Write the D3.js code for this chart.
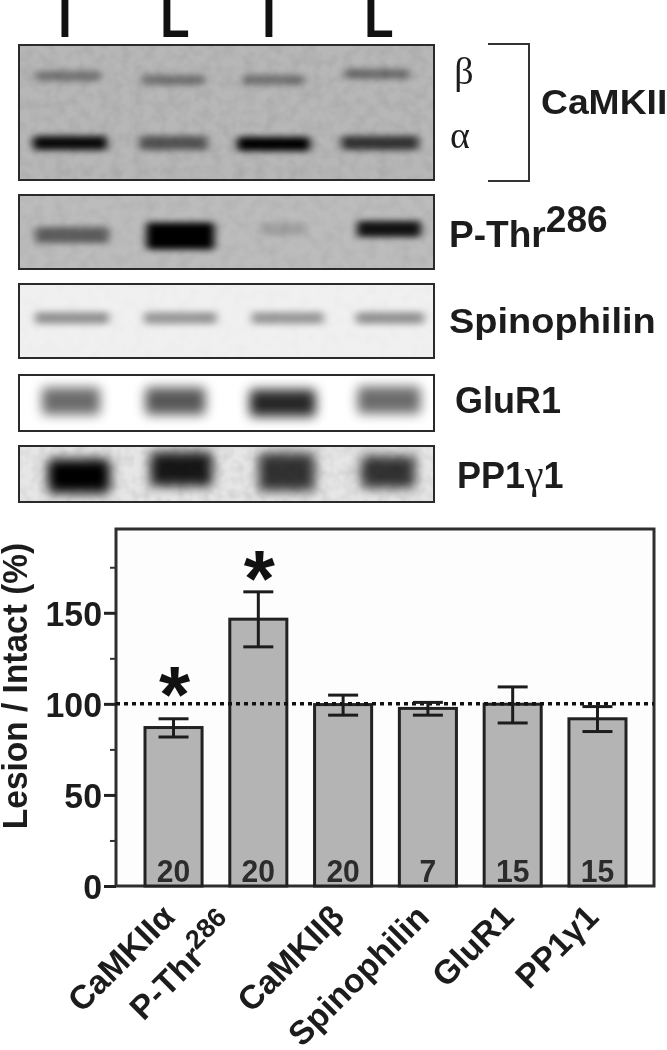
<!DOCTYPE html>
<html><head><meta charset="utf-8">
<script src="https://cdnjs.cloudflare.com/ajax/libs/d3/7.8.5/d3.min.js"></script>
<style>html,body{margin:0;padding:0;background:#fff;overflow:hidden}svg{display:block;filter:blur(.6px)}
text{font-family:"Liberation Sans",Arial,sans-serif;fill:#1c1c1c}</style></head><body>
<svg id="c" width="667" height="1050"></svg>
<script>
// ---- bar chart data ----
const categories = ["CaMKIIα","P-Thr286","CaMKIIβ","Spinophilin","GluR1","PP1γ1"];
const means      = [87, 146.5, 99.6, 97.5, 99.8, 91.8];
const errUpper   = [91.8, 161.5, 104.8, 100.8, 109.3, 98.5];
const errLower   = [81.8, 131.3, 93.8, 93.8, 89.5, 84.8];
const sampleSizes= [20, 20, 20, 7, 15, 15];
const significant= [true, true, false, false, false, false];
const majorTicks = [0, 50, 100, 150];
const minorTicks = [25, 75, 125, 175];
const referenceLevel = [100];
// ---- blot data: lane labels and band density per lane ----
const lanes = ["I","L","I","L"];
const betaDensity  = [.38,.38,.38,.42];
const alphaDensity = [.95,.55,1,.72];
const pThrDensity  = [.5,1,.15,.9];
const spinDensity  = [.38,.36,.36,.38];
const gluDensity   = [.58,.66,.85,.58];
const ppDensity    = [1,.9,.78,.78];

const svg = d3.select("#c");
const defs = svg.append("defs");
function blur(id,sd){defs.append("filter").attr("id",id).attr("filterUnits","userSpaceOnUse")
  .attr("x",0).attr("y",0).attr("width",667).attr("height",1050)
  .append("feGaussianBlur").attr("stdDeviation",sd);}
blur("b2",[4,3.2]); blur("b5",[6,6]);
const noise = defs.append("filter").attr("id","grain").attr("filterUnits","userSpaceOnUse")
  .attr("x",0).attr("y",0).attr("width",667).attr("height",1050);
noise.append("feTurbulence").attr("type","fractalNoise").attr("baseFrequency",.09).attr("numOctaves",2).attr("seed",4);
noise.append("feColorMatrix").attr("values","0 0 0 0 0  0 0 0 0 0  0 0 0 0 0  0 0 0 .9 -.33");

// ---- blot panels ----
const laneX = d3.scalePoint().domain(d3.range(lanes.length)).range([70,380]);
const panels = [
 {y:45, h:135,bg:"#b7b7b7",grain:.14,bands:[
   {d:betaDensity, cy:[76,80,80,74],w:[66,64,62,66],h:10,dx:[-2,0,-3,-3],f:"b2"},
   {d:alphaDensity,cy:[143,143,144,143],w:[74,68,73,77],h:14,dx:[0,0,-3,0],f:"b2"}]},
 {y:195,h:74, bg:"#bcbcbc",grain:.1,bands:[
   {d:pThrDensity,cy:[235,236,229,229],w:[74,68,44,64],h:[16,27,13,16],dx:[2,7,6,9],f:"b2"}]},
 {y:284,h:74, bg:"#f0f0f0",grain:.03,bands:[
   {d:spinDensity,cy:[318,318,318,318],w:[74,73,72,68],h:12,dx:[2,7,11,10],f:"b2"}]},
 {y:375,h:56, bg:"#ffffff",grain:0,bands:[
   {d:gluDensity,cy:[401,401,403,400],w:[58,60,66,63],h:27,dx:[1,2,6,9],f:"b5"}]},
 {y:446,h:56, bg:"#e6e6e6",grain:.18,bands:[
   {d:ppDensity,cy:[476,469,472,472],w:[62,62,56,54],h:[34,34,38,32],dx:[9,8,10,8],f:"b5"}]}
];
const px0=19, pw=415;
panels.forEach((p,i)=>{
  const id="clip"+i;
  defs.append("clipPath").attr("id",id).append("rect").attr("x",px0).attr("y",p.y).attr("width",pw).attr("height",p.h);
  const g=svg.append("g").attr("clip-path",`url(#${id})`);
  g.append("rect").attr("x",px0).attr("y",p.y).attr("width",pw).attr("height",p.h).attr("fill",p.bg);
  p.bands.forEach(b=>{
    g.append("g").attr("filter",`url(#${b.f})`).selectAll("rect").data(b.d).join("rect")
      .attr("x",(d,k)=>laneX(k)+b.dx[k]-b.w[k]/2)
      .attr("width",(d,k)=>b.w[k])
      .attr("y",(d,k)=>b.cy[k]-(Array.isArray(b.h)?b.h[k]:b.h)/2)
      .attr("height",(d,k)=>Array.isArray(b.h)?b.h[k]:b.h)
      .attr("rx",3).attr("fill","#000").attr("opacity",d=>d);
  });
  if(p.grain) g.append("rect").attr("x",px0).attr("y",p.y).attr("width",pw).attr("height",p.h)
     .attr("filter","url(#grain)").attr("opacity",p.grain);
  svg.append("rect").attr("x",px0).attr("y",p.y).attr("width",pw).attr("height",p.h)
     .attr("fill","none").attr("stroke","#2a2a2a").attr("stroke-width",2);
});

// lane labels
svg.append("g").selectAll("text").data(lanes).join("text")
  .attr("transform",(d,i)=>`translate(${[65,175,269,379][i]},37) scale(.8,1)`)
  .attr("text-anchor","middle").attr("font-size",60).attr("font-weight","bold").style("fill","#111").text(d=>d);

// bracket
svg.append("path").attr("d",d3.line()([[488,44],[529,44],[529,181],[488,181]]))
  .attr("fill","none").attr("stroke","#333").attr("stroke-width",2);

// blot labels
function lab(x,y,size,txt,sx){
  return svg.append("text").attr("transform",`translate(${x},${y}) scale(${sx||1},1)`)
    .attr("font-size",size).attr("font-weight","bold").text(txt);
}
svg.append("text").attr("x",464).attr("y",84).attr("text-anchor","middle").attr("font-size",38)
  .style("font-family","'Liberation Serif',serif").text("β");
svg.append("text").attr("x",460).attr("y",148).attr("text-anchor","middle").attr("font-size",38)
  .style("font-family","'Liberation Serif',serif").text("α");
lab(541,114,36,"CaMKII",1.035);
const pt=lab(449,247,36,"P-Thr",1.03);
pt.append("tspan").attr("dy",-15).text("286");
lab(449,333,36,"Spinophilin",1.055);
lab(455,413,36,"GluR1",1.0);
const pp=lab(457,488,36,"PP1",1.0);
pp.append("tspan").style("font-family","'Liberation Serif',serif").attr("font-weight","normal").attr("font-size",42).text("γ");
pp.append("tspan").text("1");

// ---- bar chart ----
const L=116,R=654,T=529,B=886;
const y=d3.scaleLinear().domain([0,196]).range([B,T]);
const x=d3.scaleBand().domain(categories).range([145,626]).paddingInner(.327).paddingOuter(0);
svg.append("rect").attr("x",L).attr("y",T).attr("width",R-L).attr("height",B-T)
  .attr("fill","#fdfdfd").attr("stroke","#2f2f2f").attr("stroke-width",3);

const gy=svg.append("g").attr("transform",`translate(${L},0)`);
const axMajor=gy.append("g").call(d3.axisLeft(y).tickValues(majorTicks).tickSize(12).tickPadding(3).tickSizeOuter(0));
axMajor.select(".domain").remove();
axMajor.selectAll("line").attr("stroke","#222").attr("stroke-width",3);
axMajor.selectAll("text").attr("font-size",36).attr("font-weight","bold")
  .style("font-family","'Liberation Sans',Arial,sans-serif")
  .attr("dy","0.35em").attr("x",0).attr("transform",d=>`translate(-14,0) scale(.94,1)`);
const axMinor=gy.append("g").call(d3.axisLeft(y).tickValues(minorTicks).tickSize(6).tickFormat(""));
axMinor.select(".domain").remove();
axMinor.selectAll("line").attr("stroke","#333").attr("stroke-width",2);

svg.append("text").attr("transform",`translate(27,686) rotate(-90) scale(.93,1)`)
  .attr("text-anchor","middle").attr("font-size",36).attr("font-weight","bold").text("Lesion / Intact (%)");

svg.append("g").selectAll("rect").data(categories).join("rect")
  .attr("x",d=>x(d)).attr("width",x.bandwidth())
  .attr("y",(d,i)=>y(means[i])).attr("height",(d,i)=>y(0)-y(means[i]))
  .attr("fill","#b4b4b4").attr("stroke","#222").attr("stroke-width",3);

svg.append("line").attr("x1",L).attr("x2",R).attr("y1",y(referenceLevel[0])).attr("y2",y(referenceLevel[0]))
  .attr("stroke","#111").attr("stroke-width",3.5).attr("stroke-dasharray","4 4");

const eb=svg.append("g").attr("stroke","#1c1c1c").attr("stroke-width",3).attr("fill","none");
categories.forEach((c,i)=>{
  const cx=x(c)+x.bandwidth()/2;
  eb.append("line").attr("x1",cx).attr("x2",cx).attr("y1",y(errUpper[i])).attr("y2",y(errLower[i]));
  [errUpper[i],errLower[i]].forEach(v=>eb.append("line").attr("x1",cx-15).attr("x2",cx+15).attr("y1",y(v)).attr("y2",y(v)));
});

svg.append("g").selectAll("text").data(categories).join("text")
  .attr("transform",d=>`translate(${x(d)+x.bandwidth()/2},${y(0)-4}) scale(.94,1)`)
  .attr("text-anchor","middle").attr("font-size",32).attr("font-weight","bold").style("fill","#2c2c2c")
  .text((d,i)=>sampleSizes[i]);

svg.append("g").selectAll("text").data(categories.filter((d,i)=>significant[i])).join("text")
  .attr("x",d=>x(d)+x.bandwidth()/2+1)
  .attr("y",d=>y(errUpper[categories.indexOf(d)])+ (d===categories[0]?3:14))
  .attr("text-anchor","middle").attr("font-size",80).attr("font-weight","bold").style("fill","#111").text("*");

// rotated category labels
const xl=svg.append("g").selectAll("text").data(categories).join("text")
  .attr("transform",d=>{
    const cx=x(d)+x.bandwidth()/2;
    return `translate(${cx+(d==="P-Thr286"?-24:0)+3},${d==="P-Thr286"?928:919}) rotate(-45)`;
  }).attr("text-anchor","end").attr("font-size",33.5).attr("font-weight","bold");
xl.each(function(d){
  const t=d3.select(this), m=d.match(/^(P-Thr)(286)$/);
  if(m){
    t.append("tspan").text(m[1]);
    t.append("tspan").attr("dy",-13).attr("font-size",27).text(m[2]);
  } else t.text(d);
});
</script></body></html>
